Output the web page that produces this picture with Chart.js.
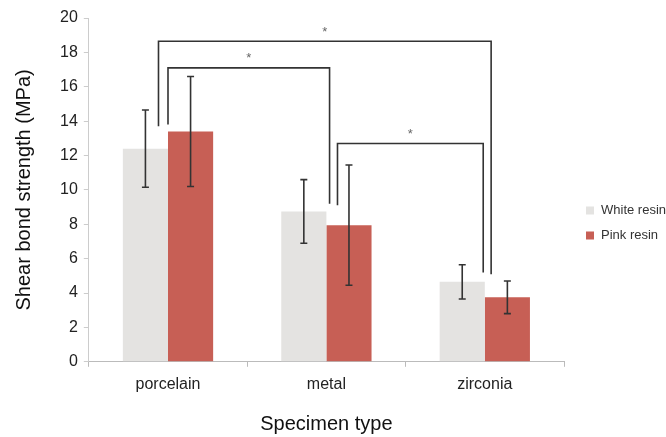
<!DOCTYPE html>
<html>
<head>
<meta charset="utf-8">
<script src="https://cdn.jsdelivr.net/npm/chart.js@4"></script>
<style>
  html, body { margin: 0; padding: 0; background: #fff; }
  #wrap { width: 666px; height: 437px; }
</style>
</head>
<body>
<div id="wrap"><canvas id="myChart" width="666" height="437"></canvas></div>
<script>
const categories = ["porcelain", "metal", "zirconia"];
const whiteResin = [12.4, 8.75, 4.65];
const whiteErr = [2.25, 1.85, 1.0];
const pinkResin = [13.4, 7.95, 3.75];
const pinkErr = [3.2, 3.5, 0.95];

// significance brackets: x as category index (+ fraction), y in MPa
const bracketLeftX = [-0.06, 0.0, 1.07];
const bracketRightX = [2.04, 1.02, 1.99];
const bracketTop = [18.65, 17.1, 12.7];
const bracketLeftBottom = [13.7, 13.8, 9.1];
const bracketRightBottom = [5.1, 9.2, 5.2];

const FONT = "'Liberation Sans', Arial";

const errorBars = {
  id: "errorBars",
  afterDatasetsDraw(chart) {
    const ctx = chart.ctx;
    const y = chart.scales.y;
    const errs = [whiteErr, pinkErr];
    ctx.save();
    ctx.strokeStyle = "#333";
    ctx.lineWidth = 1.6;
    chart.data.datasets.forEach((ds, di) => {
      chart.getDatasetMeta(di).data.forEach((bar, i) => {
        const v = ds.data[i];
        const top = y.getPixelForValue(v + errs[di][i]);
        const bot = y.getPixelForValue(v - errs[di][i]);
        ctx.beginPath();
        ctx.moveTo(bar.x, top); ctx.lineTo(bar.x, bot);
        ctx.moveTo(bar.x - 3.5, top); ctx.lineTo(bar.x + 3.5, top);
        ctx.moveTo(bar.x - 3.5, bot); ctx.lineTo(bar.x + 3.5, bot);
        ctx.stroke();
      });
    });
    ctx.restore();
  }
};

const brackets = {
  id: "brackets",
  afterDatasetsDraw(chart) {
    const ctx = chart.ctx;
    const x = chart.scales.x, y = chart.scales.y;
    ctx.save();
    for (let i = 0; i < bracketTop.length; i++) {
      const x1 = x.getPixelForValue(bracketLeftX[i]);
      const x2 = x.getPixelForValue(bracketRightX[i]);
      const yt = y.getPixelForValue(bracketTop[i]);
      ctx.strokeStyle = "#333";
      ctx.lineWidth = 1.6;
      ctx.beginPath();
      ctx.moveTo(x1, y.getPixelForValue(bracketLeftBottom[i]));
      ctx.lineTo(x1, yt);
      ctx.lineTo(x2, yt);
      ctx.lineTo(x2, y.getPixelForValue(bracketRightBottom[i]));
      ctx.stroke();
      ctx.fillStyle = "#666";
      ctx.font = "13px " + FONT;
      ctx.textAlign = "center";
      ctx.textBaseline = "middle";
      ctx.fillText("*", (x1 + x2) / 2, yt - 9);
    }
    ctx.restore();
  }
};

// legend drawn beside the plot, to the right of the chart area
const sideLegend = {
  id: "sideLegend",
  afterDraw(chart) {
    const ctx = chart.ctx;
    const area = chart.chartArea;
    ctx.save();
    ctx.font = "13px " + FONT;
    ctx.textBaseline = "middle";
    ctx.textAlign = "left";
    chart.data.datasets.forEach((ds, i) => {
      const cy = 210.5 + i * 25;
      const bx = area.right + 22;
      ctx.fillStyle = ds.backgroundColor;
      ctx.fillRect(bx, cy - 4, 8, 8);
      ctx.fillStyle = "#333";
      ctx.fillText(ds.label, bx + 15, cy);
    });
    ctx.restore();
  }
};

new Chart("myChart", {
  type: "bar",
  data: {
    labels: categories,
    datasets: [{
      label: "White resin",
      data: whiteResin,
      backgroundColor: "#e4e3e1"
    }, {
      label: "Pink resin",
      data: pinkResin,
      backgroundColor: "#c75f55"
    }]
  },
  options: {
    responsive: false,
    animation: false,
    categoryPercentage: 0.57,
    barPercentage: 1.0,
    layout: { padding: { top: 18, left: 8, right: 102, bottom: -3 } },
    plugins: {
      legend: { display: false },
      tooltip: { enabled: false }
    },
    scales: {
      x: {
        grid: { drawOnChartArea: false, color: "#bbb", tickLength: 5 },
        border: { color: "#bbb" },
        ticks: { color: "#222", font: { family: FONT, size: 16 }, padding: 8 },
        title: { display: true, text: "Specimen type", color: "#111",
                 font: { family: FONT, size: 20 }, padding: { top: 10 } }
      },
      y: {
        min: 0, max: 20,
        ticks: { stepSize: 2, color: "#222", font: { family: FONT, size: 16 }, padding: 6 },
        grid: { drawOnChartArea: false, color: "#ccc", tickLength: 5 },
        border: { color: "#ccc" },
        title: { display: true, text: "Shear bond strength (MPa)", color: "#111",
                 font: { family: FONT, size: 20 }, padding: { bottom: 18 } }
      }
    }
  },
  plugins: [errorBars, brackets, sideLegend]
});
</script>
</body>
</html>
